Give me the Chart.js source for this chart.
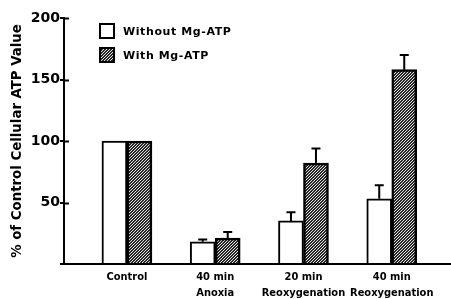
<!DOCTYPE html>
<html>
<head>
<meta charset="utf-8">
<script src="https://cdn.jsdelivr.net/npm/chart.js@4.4.1/dist/chart.umd.min.js"></script>
<style>
  html, body { margin: 0; padding: 0; background: #fff; }
  #wrap { width: 451px; height: 299px; }
</style>
</head>
<body>
<div id="wrap"><canvas id="canvas"></canvas></div>
<script>
// data
const categories = [['Control'], ['40 min', 'Anoxia'], ['20 min', 'Reoxygenation'], ['40 min', 'Reoxygenation']];
const without_mg = [100, 18, 35, 53];
const without_err = [0, 2, 7, 11];
const with_mg = [100, 21, 82, 158];
const with_err = [0, 5, 12, 12];
const y_ticks = [50, 100, 150, 200];
const series_labels = ['Without Mg-ATP', 'With Mg-ATP'];

// hatch pattern for the Mg-ATP bars ("////" lines, 3px apart)
function make_hatch() {
    const c = document.createElement('canvas');
    c.width = 3; c.height = 3;
    const g = c.getContext('2d');
    const img = g.createImageData(3, 3);
    for (let yy = 0; yy < 3; yy++) {
        for (let xx = 0; xx < 3; xx++) {
            const k = (yy * 3 + xx) * 4;
            const light = (xx + yy) % 3 === 2;
            const v = light ? 225 : 40;
            img.data[k] = v; img.data[k + 1] = v; img.data[k + 2] = v; img.data[k + 3] = 255;
        }
    }
    g.putImageData(img, 0, 0);
    return g.createPattern(c, 'repeat');
}
const hatch = make_hatch();

const errors = [without_err, with_err];

// error bars, inner y tick stubs and the legend
const extras = {
    id: 'extras',
    afterDatasetsDraw(chart) {
        const ctx = chart.ctx;
        const y = chart.scales.y;
        ctx.save();
        ctx.strokeStyle = '#000';
        ctx.lineWidth = 2;
        chart.data.datasets.forEach((ds, di) => {
            const meta = chart.getDatasetMeta(di);
            meta.data.forEach((bar, i) => {
                const err = errors[di][i];
                if (!err) return;
                const top = y.getPixelForValue(ds.data[i].y + err);
                ctx.beginPath();
                ctx.moveTo(bar.x, bar.y);
                ctx.lineTo(bar.x, top);
                ctx.moveTo(bar.x - 4.5, top);
                ctx.lineTo(bar.x + 4.5, top);
                ctx.stroke();
            });
        });
        // tick marks crossing into the plot
        const left = chart.chartArea.left;
        y_ticks.forEach(v => {
            const py = Math.round(y.getPixelForValue(v)) + 0.5;
            ctx.beginPath();
            ctx.moveTo(left, py);
            ctx.lineTo(left + 5, py);
            ctx.stroke();
        });
        // legend
        ctx.font = 'bold 11px "DejaVu Sans"';
        ctx.letterSpacing = '0.6px';
        ctx.fillStyle = '#000';
        ctx.textBaseline = 'middle';
        const fills = ['#fff', hatch];
        series_labels.forEach((lab, i) => {
            const by = 24 + i * 24;
            ctx.fillStyle = fills[i];
            ctx.fillRect(100, by, 14, 14);
            ctx.lineWidth = 2;
            ctx.strokeRect(100, by, 14, 14);
            ctx.fillStyle = '#000';
            ctx.fillText(lab, 123, by + 8);
        });
        ctx.restore();
    }
};

new Chart(document.getElementById('canvas'), {
    type: 'bar',
    data: {
        datasets: [
            {
                label: series_labels[0],
                data: without_mg.map((v, i) => ({x: i + 1, y: v})),
                backgroundColor: '#fff',
                borderColor: '#000',
                borderWidth: 2,
                barThickness: 25
            },
            {
                label: series_labels[1],
                data: with_mg.map((v, i) => ({x: i + 1, y: v})),
                backgroundColor: hatch,
                borderColor: '#000',
                borderWidth: 2.5,
                barThickness: 25
            }
        ]
    },
    options: {
        responsive: true,
        maintainAspectRatio: false,
        animation: false,
        layout: { padding: { top: 18, right: 1, left: 0, bottom: 0 } },
        plugins: { legend: { display: false }, tooltip: { enabled: false } },
        scales: {
            x: {
                type: 'linear',
                offset: false,
                min: 0.287,
                max: 4.66,
                grid: { display: false, drawTicks: false, offset: false },
                border: { color: '#000', width: 2 },
                afterBuildTicks: (scale) => {
                    scale.ticks = categories.map((c, i) => ({ value: i + 1 }));
                },
                afterFit: (scale) => { scale.height = 35; },
                ticks: {
                    autoSkip: false,
                    maxRotation: 0,
                    padding: 5,
                    color: '#000',
                    font: { family: '"DejaVu Sans Condensed"', weight: 'bold', size: 11, lineHeight: 1.45 },
                    callback: (v) => categories[v - 1] || ''
                }
            },
            y: {
                min: 0,
                max: 200,
                afterBuildTicks: (scale) => {
                    scale.ticks = [0].concat(y_ticks).map(v => ({ value: v }));
                },
                afterFit: (scale) => { scale.width = 64; },
                grid: { drawOnChartArea: false, drawTicks: true, tickLength: 4, color: '#000', lineWidth: 2 },
                border: { color: '#000', width: 2 },
                ticks: {
                    padding: 0,
                    color: '#000',
                    font: { family: '"DejaVu Sans"', weight: 'bold', size: 14 },
                    callback: (v) => v === 0 ? '' : v
                },
                title: {
                    display: true,
                    text: '% of Control Cellular ATP Value',
                    color: '#000',
                    font: { family: '"DejaVu Sans Condensed"', weight: 'bold', size: 14.8, lineHeight: 1 },
                    padding: { top: 10, bottom: 0 }
                }
            }
        }
    },
    plugins: [extras]
});
</script>
</body>
</html>
